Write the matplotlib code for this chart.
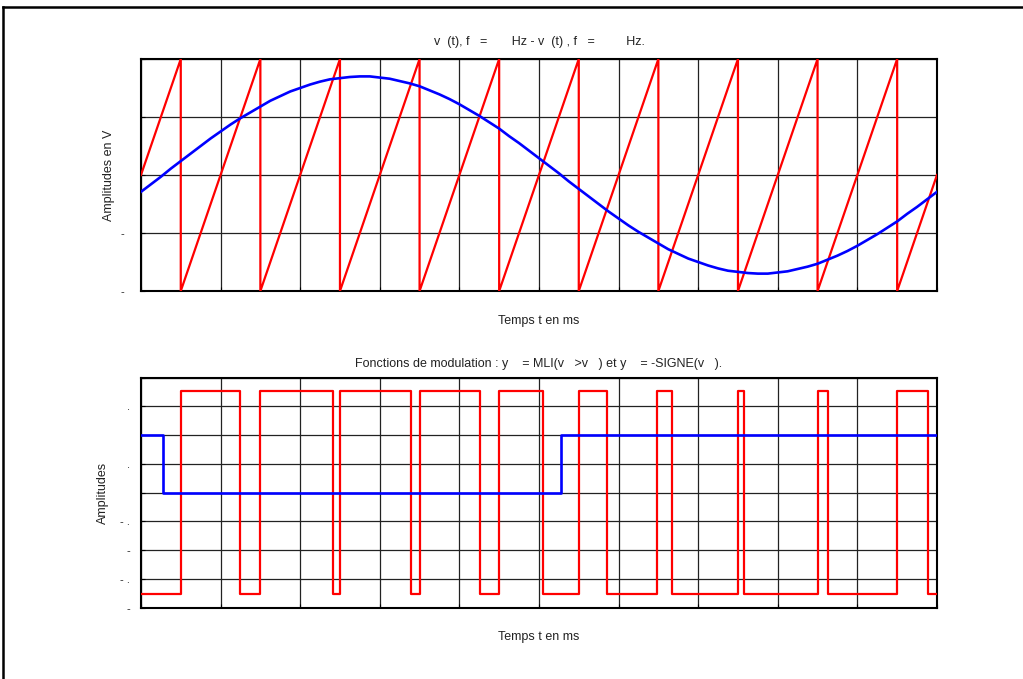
import matplotlib.pyplot as plt
from matplotlib.lines import Line2D

plt.rcParams['font.family'] = ['Liberation Sans', 'DejaVu Sans']

# time axis in ms, sine read every 0.25 ms
t_sine = [i * 0.25 for i in range(81)]
v_sine = [-0.29, -0.16, -0.03, 0.11, 0.24, 0.37, 0.50, 0.63, 0.75, 0.87, 0.98, 1.08,
          1.18, 1.28, 1.36, 1.44, 1.50, 1.56, 1.61, 1.65, 1.67, 1.69, 1.70, 1.70,
          1.68, 1.66, 1.62, 1.58, 1.53, 1.46, 1.39, 1.31, 1.22, 1.12, 1.02, 0.91,
          0.80, 0.67, 0.55, 0.42, 0.29, 0.16, 0.03, -0.11, -0.24, -0.37, -0.50, -0.63,
          -0.75, -0.87, -0.98, -1.08, -1.18, -1.28, -1.36, -1.44, -1.50, -1.56, -1.61,
          -1.65, -1.67, -1.69, -1.70, -1.70, -1.68, -1.66, -1.62, -1.58, -1.53, -1.46,
          -1.39, -1.31, -1.22, -1.12, -1.02, -0.91, -0.80, -0.67, -0.55, -0.42, -0.29]

# sawtooth corners
t_saw = [0, 1, 1, 3, 3, 5, 5, 7, 7, 9, 9, 11, 11, 13, 13, 15, 15, 17, 17, 19, 19, 20]
v_saw = [0, 2, -2, 2, -2, 2, -2, 2, -2, 2, -2, 2, -2, 2, -2, 2, -2, 2, -2, 2, -2, 0]

# modulation signals (step transitions)
t_mli = [0, 1.0, 2.5, 3.0, 4.83, 5.0, 6.78, 7.0, 8.51, 9.0, 10.1, 11.0, 11.7, 12.97,
         13.33, 15.0, 15.14, 17.0, 17.25, 19.0, 19.78, 20]
y_mli = [-1.77, 1.77, -1.77, 1.77, -1.77, 1.77, -1.77, 1.77, -1.77, 1.77, -1.77, 1.77,
         -1.77, 1.77, -1.77, 1.77, -1.77, 1.77, -1.77, 1.77, -1.77, -1.77]
t_sign = [0, 0.55, 10.55, 20]
y_sign = [1, 0, 1, 1]

top_ticks = [-2, -1, 0, 1, 2]
top_labels = ['-', '-', '', '', '']
bot_ticks = [-2, -1.5, -1, -0.5, 0, 0.5, 1, 1.5, 2]
bot_labels = ['-', '- .', '-', '- .', '', '.', '', '.', '']

txt = '#222222'
fs = 9


def style(ax, yticks, ylabels, pad):
    ax.set_xlim(0, 20)
    ax.set_xticks(range(0, 21, 2))
    ax.set_xticklabels([])
    ax.set_yticks(yticks)
    ax.set_yticklabels(ylabels, fontsize=8, color=txt)
    ax.set_ylim(yticks[0], yticks[-1])
    ax.grid(True, color='#222222', linewidth=0.9)
    ax.tick_params(direction='in', length=3, pad=pad)
    for s in ax.spines.values():
        s.set_linewidth(1.5)
        s.set_color('black')


fig = plt.figure(figsize=(10.23, 6.79), dpi=100)

ax1 = fig.add_axes([0.1378, 0.5714, 0.7781, 0.3417])
ax1.plot(t_saw, v_saw, color='#ff0000', linewidth=1.6, zorder=3)
ax1.plot(t_sine, v_sine, color='#0000ff', linewidth=1.9, zorder=4)
style(ax1, top_ticks, top_labels, 12)
ax1.set_title('v  (t), f   =       Hz - v  (t) , f   =         Hz.', fontsize=fs, color=txt, pad=10)
ax1.set_xlabel('Temps t en ms', fontsize=fs, color=txt)
ax1.set_ylabel('Amplitudes en V', fontsize=fs, color=txt)
ax1.xaxis.set_label_coords(0.5, -0.103)
ax1.yaxis.set_label_coords(-0.032, 0.5)

ax2 = fig.add_axes([0.1378, 0.105, 0.7781, 0.3387])
ax2.plot(t_mli, y_mli, color='#ff0000', linewidth=1.6, drawstyle='steps-post', zorder=3)
ax2.plot(t_sign, y_sign, color='#0000ff', linewidth=1.9, drawstyle='steps-post', zorder=4)
style(ax2, bot_ticks, bot_labels, 8)
ax2.set_title('Fonctions de modulation : y    = MLI(v   >v   ) et y    = -SIGNE(v   ).',
              fontsize=fs, color=txt, pad=8)
ax2.set_xlabel('Temps t en ms', fontsize=fs, color=txt)
ax2.set_ylabel('Amplitudes', fontsize=fs, color=txt)
ax2.xaxis.set_label_coords(0.5, -0.101)
ax2.yaxis.set_label_coords(-0.040, 0.5)

# frame of the original document
fig.add_artist(Line2D([0.003, 0.003], [0, 0.99], transform=fig.transFigure,
                      color='black', linewidth=1.8))
fig.add_artist(Line2D([0.003, 1.0], [0.99, 0.99], transform=fig.transFigure,
                      color='black', linewidth=1.8))

fig.savefig('out.png', dpi=100)
